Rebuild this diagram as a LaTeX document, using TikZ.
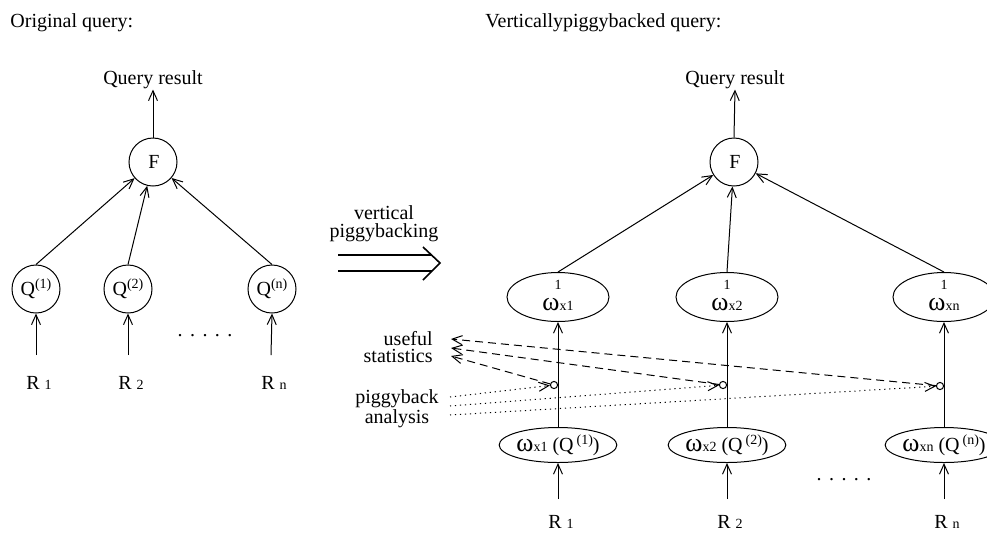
\documentclass[tikz,border=0pt]{standalone}
\usepackage{fontspec}
\setmainfont{Liberation Serif}
\usetikzlibrary{arrows.meta,shapes.geometric}
\newcommand{\myom}{{\fontsize{13}{13}\selectfont ω}}
\newcommand{\mysm}[1]{{\fontsize{7}{7}\selectfont #1}}
\begin{document}
\begin{tikzpicture}[x=0.5pt,y=-0.5pt,
  every node/.style={font=\fontsize{10}{11}\selectfont, inner sep=0pt},
  qc/.style={draw, circle, minimum size=24pt, line width=0.5pt},
  upell/.style={draw, ellipse, minimum width=51pt, minimum height=24.5pt, line width=0.5pt, align=center},
  loell/.style={draw, ellipse, minimum width=50.5pt, minimum height=17.5pt, line width=0.5pt},
  tinyc/.style={draw, circle, minimum size=3.6pt, line width=0.5pt},
  arr/.style={-{Straight Barb[length=5pt,width=4.5pt]}, line width=0.5pt},
  dsh/.style={arr, dash pattern=on 4pt off 2.5pt},
  dtt/.style={arr, dash pattern=on 0.6pt off 1.9pt},
  twoline/.style={align=center, font=\fontsize{10}{8.5}\selectfont},
  dbl/.style={line width=0.8pt}
]
\useasboundingbox (0,0) rectangle (987,532);

% ---------- titles ----------
\node[anchor=west] (t1) at (10,23) {Original query:};
\node[anchor=west] (t2) at (485,23) {Verticallypiggybacked query:};

% ---------- left tree ----------
\node (qr1) at (153,80) {Query result};
\node[qc] (F1) at (153,162) {\hspace{1pt}F};
\node[qc] (q1) at (36,289) {Q\raisebox{0.8ex}{\mysm{(1)}}};
\node[qc] (q2) at (128,289) {Q\raisebox{0.8ex}{\mysm{(2)}}};
\node[qc] (qn) at (272,289) {Q\raisebox{0.8ex}{\mysm{(n)}}};
\node (r1) at (39,383) {R\hspace{2.5pt}\mysm{1}};
\node (r2) at (131,383) {R\hspace{2.5pt}\mysm{2}};
\node (rn) at (274,383) {R\hspace{2.5pt}\mysm{n}};
\coordinate (r1b) at (36,355);
\coordinate (r2b) at (128,355);
\coordinate (rnb) at (271,355);
\node (dots1) at (205,336) {.\hspace{3.7pt}.\hspace{3.7pt}.\hspace{3.7pt}.\hspace{3.7pt}.};

\draw[arr] (F1.north) -- (qr1.south);
\draw[arr] (q1.north) -- (F1);
\draw[arr] (q2.north) -- (F1);
\draw[arr] (qn.north) -- (F1);
\draw[arr] (r1b) -- (q1.south);
\draw[arr] (r2b) -- (q2.south);
\draw[arr] (rnb) -- (qn.south);

% ---------- middle arrow ----------
\node[twoline, font=\fontsize{10}{9}\selectfont] (vp) at (384,224) {vertical\\piggybacking};
\coordinate (a1) at (338,255);
\coordinate (a2) at (432,255);
\coordinate (a3) at (338,271);
\coordinate (a4) at (432,271);
\coordinate (h1) at (423,247);
\coordinate (h2) at (440,263);
\coordinate (h3) at (423,280);
\draw[dbl] (a1) -- (a2);
\draw[dbl] (a3) -- (a4);
\draw[dbl] (h1) -- (h2) -- (h3);

% ---------- right tree ----------
\node (qr2) at (735,80) {Query result};
\node[qc] (F2) at (734,162) {\hspace{1pt}F};

\node[upell] (o1) at (558,297) {\mysm{1}\\[-0.5pt]\myom\mysm{x1}\rule[-2pt]{0pt}{2pt}};
\node[upell] (o2) at (727,297) {\mysm{1}\\[-0.5pt]\myom\mysm{x2}\rule[-2pt]{0pt}{2pt}};
\node[upell] (on) at (944,297) {\mysm{1}\\[-0.5pt]\myom\mysm{xn}\rule[-2pt]{0pt}{2pt}};

\node[loell] (l1) at (558,445) {\myom\mysm{x1}\hspace{2.5pt}(Q\hspace{1.5pt}\raisebox{0.8ex}{\mysm{(1)}})};
\node[loell] (l2) at (727,445) {\myom\mysm{x2}\hspace{2.5pt}(Q\hspace{1.5pt}\raisebox{0.8ex}{\mysm{(2)}})};
\node[loell] (ln) at (944,445) {\myom\mysm{xn}\hspace{2.5pt}(Q\hspace{1.5pt}\raisebox{0.8ex}{\mysm{(n)}})};

\node (s1) at (561,522) {R\hspace{2.5pt}\mysm{1}};
\node (s2) at (730,522) {R\hspace{2.5pt}\mysm{2}};
\node (sn) at (947,522) {R\hspace{2.5pt}\mysm{n}};
\coordinate (s1b) at (558,499);
\coordinate (s2b) at (727,499);
\coordinate (snb) at (944,499);
\node (dots2) at (844,480) {.\hspace{3.7pt}.\hspace{3.7pt}.\hspace{3.7pt}.\hspace{3.7pt}.};

\draw[arr] (F2.north) -- (qr2.south);
\draw[arr] (o1.north) -- (F2);
\draw[arr] (o2.north) -- (F2);
\draw[arr] (on.north) -- (F2);
\draw[arr] (l1.north) -- (o1.south);
\draw[arr] (l2.north) -- (o2.south);
\draw[arr] (ln.north) -- (on.south);
\draw[arr] (s1b) -- (l1.south);
\draw[arr] (s2b) -- (l2.south);
\draw[arr] (snb) -- (ln.south);

% small circles
\node[tinyc] (c1) at (554,385) {};
\node[tinyc] (c2) at (723,385) {};
\node[tinyc] (cn) at (940,386) {};

% labels
\node[twoline, anchor=east, align=right] (us) at (433,347) {useful\\statistics};
\node[twoline] (pa) at (397,409) {piggyback\\analysis};

\coordinate (u1) at (451,339);
\coordinate (u2) at (451,348);
\coordinate (u3) at (451,356);
\coordinate (p1) at (450,397);
\coordinate (p2) at (450,406);
\coordinate (p3) at (450,415);

\draw[dsh] (cn) -- (u1);
\draw[dsh] (c2) -- (u2);
\draw[dsh] (c1) -- (u3);
\draw[dtt] (p1) -- (c1);
\draw[dtt] (p2) -- (c2);
\draw[dtt] (p3) -- (cn);
\end{tikzpicture}
\end{document}
